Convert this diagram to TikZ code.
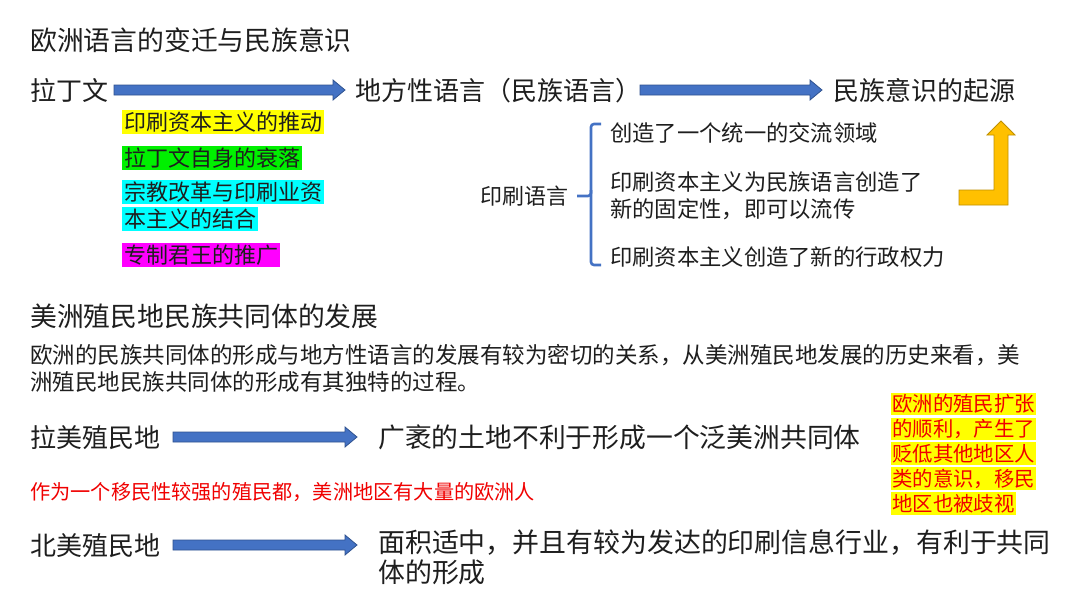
\documentclass[tikz,border=0pt]{standalone}
\usepackage{fontspec}
\setmainfont{Noto Sans CJK SC}
\usetikzlibrary{calc}
\definecolor{txt}{HTML}{1E1E1E}
\definecolor{arrfill}{HTML}{4472C4}
\definecolor{arrline}{HTML}{2F528F}
\definecolor{gold}{HTML}{FFC000}
\definecolor{goldline}{HTML}{BF9000}
\definecolor{hlyellow}{HTML}{FFFF00}
\definecolor{hlgreen}{HTML}{00F000}
\definecolor{hlcyan}{HTML}{00FFFF}
\definecolor{hlmag}{HTML}{FF00FF}
\definecolor{redtxt}{HTML}{F00000}
\tikzset{
  lbl/.style={anchor=base west, inner sep=0pt, text=txt},
  big/.style={lbl, font=\fontsize{26}{30}\selectfont},
  mid/.style={lbl, font=\fontsize{22.3}{27}\selectfont},
  hl/.style={anchor=base west, inner xsep=2pt, inner ysep=0.6pt, text height=19.4pt, text depth=2.6pt, text=txt, font=\fontsize{22}{26}\selectfont, fill=#1},
  hlr/.style={anchor=base west, inner xsep=1pt, inner ysep=1.2pt, text height=18pt, text depth=2.4pt, text=redtxt, font=\fontsize{20.4}{25}\selectfont, fill=hlyellow},
  blockarrow/.style={fill=arrfill, draw=arrline, line width=0.8pt, line join=miter},
  bracecol/.style={draw=arrfill, line width=2.6pt, rounded corners=3pt},
}
\newcommand{\blockarr}[2]{\path[blockarrow] let \p1=(#1), \p2=(#2) in
  (\x1,\y1+5pt) -- (\x2-12pt,\y1+5pt) -- (\x2-12pt,\y1+10pt) -- (\x2,\y1) --
  (\x2-12pt,\y1-10pt) -- (\x2-12pt,\y1-5pt) -- (\x1,\y1-5pt) -- cycle;}
\begin{document}
\begin{tikzpicture}[x=1pt,y=-1pt]
\useasboundingbox (0,0) rectangle (1080,606);
\fill[white] (0,0) rectangle (1080,606);

% titles
\node[lbl, font=\fontsize{26.8}{30}\selectfont] (t1) at (30,50) {欧洲语言的变迁与民族意识};
\node[big] (lat) at (30,100) {拉丁文};
\node[big] (loc) at (355,100) {地方性语言（民族语言）};
\node[big] (ori) at (833,100) {民族意识的起源};

\coordinate (a1s) at (114,90); \coordinate (a1e) at (345,90);
\coordinate (a2s) at (640,90); \coordinate (a2e) at (822,90);
\blockarr{a1s}{a1e}
\blockarr{a2s}{a2e}

% highlighted causes
\node[hl=hlyellow] (h1) at (122,130.4) {印刷资本主义的推动};
\node[hl=hlgreen] (h2) at (122,166.4) {拉丁文自身的衰落};
\node[hl=hlcyan] (h3a) at (122,200.4) {宗教改革与印刷业资};
\node[hl=hlcyan] (h3b) at (122,227.4) {本主义的结合};
\node[hl=hlmag] (h4) at (122,263.4) {专制君王的推广};

% printing language
\node[mid, font=\fontsize{22}{26}\selectfont] (pl) at (480,204.4) {印刷语言};
\draw[bracecol] (601,124) -- (591,124) -- (591,196) -- (577,196);
\draw[bracecol] (591,190) -- (591,265) -- (601,265);
\node[mid] (r1) at (610,141.5) {创造了一个统一的交流领域};
\node[mid, anchor=base west] (r2) at (610,190.5) {\parbox[t]{340pt}{印刷资本主义为民族语言创造了\\新的固定性，即可以流传}};
\node[mid] (r3) at (610,265.5) {印刷资本主义创造了新的行政权力};

% bent arrow
\path[fill=gold, draw=goldline, line width=0.8pt] (959,190) -- (994,190) -- (994,135) -- (987,135) -- (1001,121) -- (1015,135) -- (1008,135) -- (1008,205) -- (959,205) -- cycle;

% section 2
\node[lbl, font=\fontsize{26.8}{30}\selectfont] (t2) at (30,326) {美洲殖民地民族共同体的发展};
\node[lbl, font=\fontsize{22.5}{27}\selectfont] (para) at (30,363.6) {\parbox[t]{1020pt}{欧洲的民族共同体的形成与地方性语言的发展有较为密切的关系，从美洲殖民地发展的历史来看，美\\洲殖民地民族共同体的形成有其独特的过程。}};

\node[big] (lm) at (30,447) {拉美殖民地};
\node[lbl, font=\fontsize{26.8}{30}\selectfont] (lmr) at (378,447) {广袤的土地不利于形成一个泛美洲共同体};
\coordinate (a3s) at (173,437); \coordinate (a3e) at (357,437);
\blockarr{a3s}{a3e}

\node[lbl, text=redtxt, font=\fontsize{20.2}{24}\selectfont] (red) at (30,499.7) {作为一个移民性较强的殖民都，美洲地区有大量的欧洲人};

\node[big] (bm) at (30,555) {北美殖民地};
\node[lbl, font=\fontsize{26.9}{30}\selectfont] (bmr) at (378,552) {\parbox[t]{690pt}{面积适中，并且有较为发达的印刷信息行业，有利于共同\\体的形成}};
\coordinate (a4s) at (173,545); \coordinate (a4e) at (357,545);
\blockarr{a4s}{a4e}

% right yellow note
\node[hlr] (y1) at (891,411.8) {欧洲的殖民扩张};
\node[hlr] (y2) at (891,436.8) {的顺利，产生了};
\node[hlr] (y3) at (891,461.6) {贬低其他地区人};
\node[hlr] (y4) at (891,486.4) {类的意识，移民};
\node[hlr] (y5) at (891,511) {地区也被歧视};
\end{tikzpicture}
\end{document}
